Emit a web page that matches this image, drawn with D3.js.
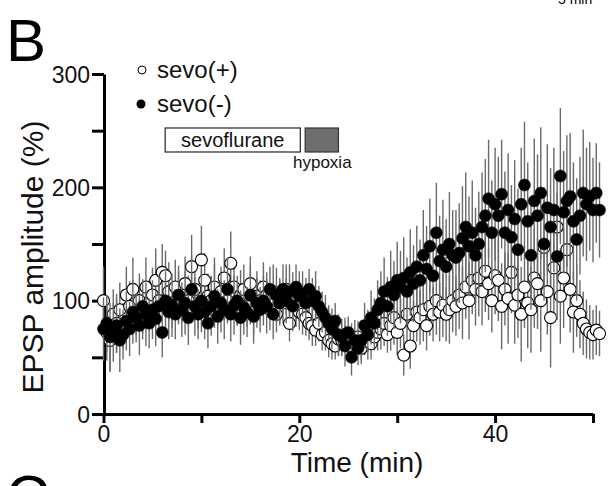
<!DOCTYPE html>
<html>
<head>
<meta charset="utf-8">
<script src="https://cdn.jsdelivr.net/npm/d3@7"></script>
<style>
  body { margin: 0; background: #fff; }
  svg { display: block; font-family: "Liberation Sans", Arial, sans-serif; }
</style>
</head>
<body>
<svg id="chart" width="610" height="486"></svg>
<script>
/* data: one sample every 20 s */
var step = 1 / 3;

var sevoPlus = [100,72,65,88,80,92,78,
  105,95,110,90,100,88,
  112,98,105,118,100,125,
  122,108,96,112,104,100,
  115,100,130,110,95,136,
  118,104,100,112,96,108,
  120,100,133,112,98,105,
  110,95,115,90,104,100,
  112,105,92,108,88,100,
  98,110,80,105,95,90,
  88,85,80,78,74,80,
  70,72,65,62,60,66,
  65,70,60,66,62,68,
  58,64,70,62,68,72,
  75,80,70,78,85,72,
  80,52,88,60,78,90,
  85,92,78,95,88,100,
  90,96,88,92,100,95,
  105,98,112,100,118,110,
  120,108,126,115,100,122,
  118,95,110,102,125,96,
  105,88,112,98,92,120,
  115,100,147,108,85,129,
  165,104,120,145,110,90,
  100,88,80,75,72,70,
  74,71];

var sevoPlusSem = [30,25,28,22,26,24,20,
  25,22,28,20,24,22,
  26,20,24,28,22,25,
  22,26,20,24,22,20,
  24,22,28,22,20,30,
  24,20,22,26,18,22,
  26,20,28,24,20,22,
  22,18,24,20,22,18,
  22,20,18,24,16,20,
  18,22,16,20,18,16,
  18,16,15,18,14,16,
  14,16,15,14,12,15,
  14,15,12,14,12,14,
  14,12,15,14,12,16,
  18,20,16,22,24,20,
  22,18,24,20,22,26,
  24,28,22,26,24,30,
  26,28,24,30,28,26,
  30,32,28,34,30,32,
  34,30,36,32,28,34,
  36,38,32,40,36,34,
  38,42,36,40,38,44,
  40,45,42,38,44,40,
  46,42,44,40,38,36,
  32,30,28,26,24,22,
  22,20];

var sevoMinus = [75,80,68,72,78,65,70,
  82,75,90,85,78,95,
  88,80,92,84,95,72,
  100,90,96,88,105,92,
  98,85,110,95,88,100,
  90,80,95,104,86,98,
  92,110,88,96,100,85,
  94,90,105,86,98,92,
  100,95,110,88,105,98,
  110,100,108,95,112,104,
  106,98,110,100,104,95,
  90,85,80,75,82,70,
  68,60,72,50,65,58,
  65,78,70,85,80,92,
  98,108,95,112,105,118,
  112,120,108,125,115,130,
  118,140,128,148,122,160,
  135,145,130,150,140,138,
  142,155,165,148,160,140,
  150,165,175,190,160,185,
  175,194,160,180,156,172,
  145,185,202,170,140,188,
  175,195,150,182,165,180,
  139,210,178,188,192,170,
  154,175,195,185,192,180,
  195,180];

var sevoMinusSem = [28,25,30,26,24,28,22,
  26,24,28,22,26,24,
  28,22,26,24,28,22,
  26,24,28,22,26,24,
  28,24,30,26,22,28,
  24,22,26,28,24,26,
  26,28,24,26,22,24,
  24,22,26,24,22,20,
  22,24,20,22,24,20,
  22,20,24,22,20,22,
  20,22,18,20,22,18,
  18,20,16,18,16,18,
  16,18,14,16,18,15,
  18,20,22,24,22,26,
  28,30,26,32,30,34,
  32,36,30,38,34,36,
  36,40,38,42,36,44,
  40,44,42,46,40,42,
  44,46,48,44,46,42,
  46,48,50,52,46,50,
  52,48,54,50,46,52,
  54,50,56,52,48,55,
  54,58,50,56,52,55,
  56,60,54,58,56,52,
  54,52,56,50,48,46,
  44,42];

var xTicks = [0, 10, 20, 30, 40, 50];
var xTickLabels = ['0', '', '20', '', '40', ''];
var yTicks = [0, 50, 100, 150, 200, 250, 300];
var yTickLabels = ['0', '', '100', '', '200', '', '300'];

var seriesNames = ['sevo(+)', 'sevo(-)'];
var sevoWindow = [6.3, 20.1];     // min
var hypoxiaWindow = [20.6, 24.0]; // min

var svg = d3.select('#chart');

var x = d3.scaleLinear().domain([0, 50]).range([103.5, 593]),
    y = d3.scaleLinear().domain([0, 300]).range([414, 74]);

/* panel letters (C and the scale text are cut by the frame, as in the figure) */
svg.append('text').attr('x', 6).attr('y', 61).attr('font-size', 60).text('B');
svg.append('text').attr('x', 6).attr('y', 517).attr('font-size', 60).text('C');
svg.append('text').attr('x', 558).attr('y', 4).attr('font-size', 14).text('5 min');

/* axes */
var gx = svg.append('g')
    .attr('transform', 'translate(0,414)')
    .call(d3.axisBottom(x).tickValues(xTicks).tickSize(9).tickSizeOuter(0).tickPadding(3)
      .tickFormat(function(d, i) { return xTickLabels[i]; }));

var gy = svg.append('g')
    .attr('transform', 'translate(104,0)')
    .call(d3.axisLeft(y).tickValues(yTicks).tickSize(12).tickSizeOuter(0).tickPadding(2)
      .tickFormat(function(d, i) { return yTickLabels[i]; }));

[gx, gy].forEach(function(g) {
  g.select('.domain').attr('stroke', '#000').attr('stroke-width', 3);
  g.selectAll('.tick line').attr('stroke', '#000').attr('stroke-width', 3);
  g.selectAll('.tick text').attr('fill', '#111').attr('font-size', 23)
    .attr('font-family', '"Liberation Sans", Arial, sans-serif');
});
gy.selectAll('.tick text').attr('dy', '0.36em');

svg.append('text')
    .attr('x', 357).attr('y', 472)
    .attr('text-anchor', 'middle').attr('font-size', 28).attr('fill', '#111')
    .text('Time (min)');

svg.append('text')
    .attr('transform', 'translate(43,257) rotate(-90)')
    .attr('text-anchor', 'middle').attr('font-size', 30).attr('fill', '#111')
    .text('EPSP amplitude (%)');

/* legend */
svg.append('circle').attr('cx', 142).attr('cy', 70).attr('r', 4)
    .attr('fill', '#fff').attr('stroke', '#000').attr('stroke-width', 1);
svg.append('text').attr('x', 157).attr('y', 78).attr('font-size', 24).attr('fill', '#111').text(seriesNames[0]);
svg.append('circle').attr('cx', 141).attr('cy', 104).attr('r', 4.5).attr('fill', '#000');
svg.append('text').attr('x', 157).attr('y', 112).attr('font-size', 24).attr('fill', '#111').text(seriesNames[1]);

/* treatment bars */
svg.append('rect')
    .attr('x', x(sevoWindow[0])).attr('y', 128)
    .attr('width', x(sevoWindow[1]) - x(sevoWindow[0])).attr('height', 24)
    .attr('fill', '#fff').attr('stroke', '#222').attr('stroke-width', 1.2);
svg.append('text')
    .attr('x', (x(sevoWindow[0]) + x(sevoWindow[1])) / 2).attr('y', 147)
    .attr('text-anchor', 'middle').attr('font-size', 20).attr('fill', '#111')
    .text('sevoflurane');
svg.append('rect')
    .attr('x', x(hypoxiaWindow[0])).attr('y', 128)
    .attr('width', x(hypoxiaWindow[1]) - x(hypoxiaWindow[0])).attr('height', 24)
    .attr('fill', '#6e6e6e').attr('stroke', '#333').attr('stroke-width', 1.2);
svg.append('text')
    .attr('x', 293).attr('y', 168).attr('font-size', 17).attr('fill', '#111')
    .text('hypoxia');

/* data */
function drawSeries(values, sem, open) {
  var data = values.map(function(v, i) { return {t: i * step, v: v, e: sem[i]}; });
  var g = svg.append('g');

  g.selectAll('.err')
    .data(data)
    .enter().append('line')
      .attr('x1', function(d) { return x(d.t); })
      .attr('x2', function(d) { return x(d.t); })
      .attr('y1', function(d) { return y(d.v - d.e); })
      .attr('y2', function(d) { return y(d.v + d.e); })
      .attr('stroke', '#6a6a6a').attr('stroke-width', 1.4);

  g.selectAll('.dot')
    .data(data)
    .enter().append('circle')
      .attr('cx', function(d) { return x(d.t); })
      .attr('cy', function(d) { return y(d.v); })
      .attr('r', 6)
      .attr('fill', open ? '#fff' : '#000')
      .attr('stroke', '#000')
      .attr('stroke-width', open ? 1.1 : 0.5);
}

drawSeries(sevoPlus, sevoPlusSem, true);
drawSeries(sevoMinus, sevoMinusSem, false);
</script>
</body>
</html>
